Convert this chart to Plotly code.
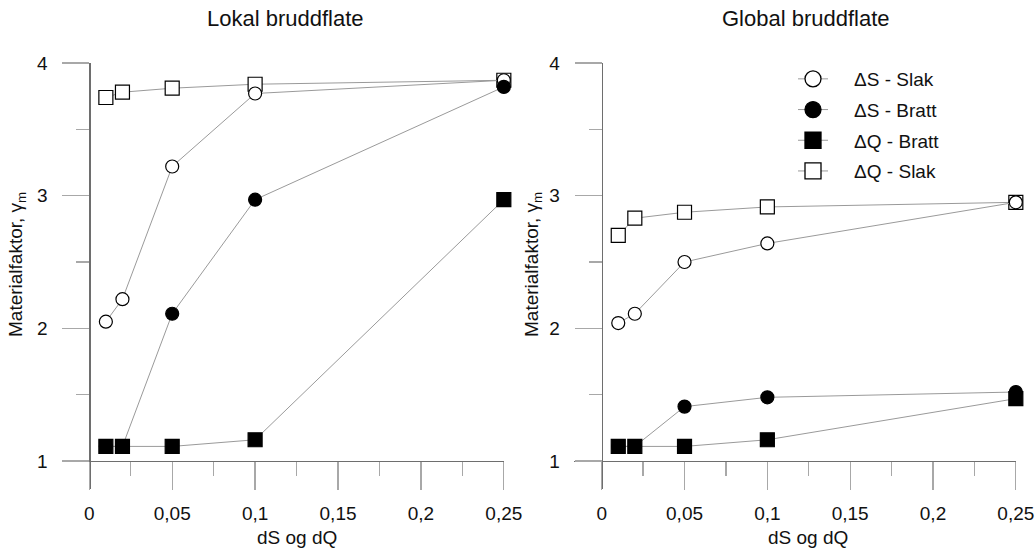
import plotly.graph_objects as go

# ---------------- data ----------------
x_vals = [0.01, 0.02, 0.05, 0.1, 0.25]

lokal_dS_slak = [2.05, 2.22, 3.22, 3.77, 3.87]
lokal_dS_bratt = [1.11, 1.11, 2.11, 2.97, 3.82]
lokal_dQ_bratt = [1.11, 1.11, 1.11, 1.16, 2.97]
lokal_dQ_slak = [3.74, 3.78, 3.81, 3.84, 3.87]

global_dS_slak = [2.04, 2.11, 2.50, 2.64, 2.95]
global_dS_bratt = [1.11, 1.11, 1.41, 1.48, 1.52]
global_dQ_bratt = [1.11, 1.11, 1.11, 1.16, 1.47]
global_dQ_slak = [2.70, 2.83, 2.875, 2.915, 2.95]

series_names = ["ΔS - Slak", "ΔS - Bratt", "ΔQ - Bratt", "ΔQ - Slak"]
panel_titles = ["Lokal bruddflate", "Global bruddflate"]
x_title = "dS og dQ"
y_title = "Materialfaktor, γ<sub>m</sub>"
x_tickvals = [0, 0.05, 0.1, 0.15, 0.2, 0.25]
x_ticktext = ["0", "0,05", "0,1", "0,15", "0,2", "0,25"]
y_tickvals = [1, 2, 3, 4]
y_ticktext = ["1", "2", "3", "4"]

# ---------------- layout helpers ----------------
# the page body margin is removed (post_script), so figure px = screen px
W, H = 1035, 548
FONT = "Liberation Sans, Arial, sans-serif"


def px(x):
    return x / W


def py(y):
    return 1 - y / H


LINE_C = "#9a9a9a"
AXIS_C = "#6e6e6e"
TICK_C = "#a8a8a8"

styles = {
    "ΔS - Slak": dict(symbol="circle", color="white", size=13, rank=1),
    "ΔS - Bratt": dict(symbol="circle", color="black", size=13, rank=2),
    "ΔQ - Bratt": dict(symbol="square", color="black", size=14, rank=3),
    "ΔQ - Slak": dict(symbol="square", color="white", size=14, rank=4),
}

panels = [
    dict(xa="x", ya="y", data={"ΔS - Slak": lokal_dS_slak, "ΔS - Bratt": lokal_dS_bratt,
                                "ΔQ - Bratt": lokal_dQ_bratt, "ΔQ - Slak": lokal_dQ_slak},
         x0=89.3, x25=504.0, xl=62.0),
    dict(xa="x2", ya="y2", data={"ΔS - Slak": global_dS_slak, "ΔS - Bratt": global_dS_bratt,
                                  "ΔQ - Bratt": global_dQ_bratt, "ΔQ - Slak": global_dQ_slak},
         x0=601.7, x25=1016.0, xl=574.0),
]

draw_order = ["ΔQ - Slak", "ΔS - Slak", "ΔS - Bratt", "ΔQ - Bratt"]

fig = go.Figure()
for p in panels:
    for name in draw_order:
        s = styles[name]
        fig.add_trace(go.Scatter(
            x=x_vals, y=p["data"][name], xaxis=p["xa"], yaxis=p["ya"],
            mode="lines+markers", name=name, legendgroup=name,
            showlegend=False, cliponaxis=False,
            line=dict(color=LINE_C, width=1),
            marker=dict(symbol=s["symbol"], size=s["size"], color=s["color"],
                        line=dict(color="black", width=1.2)),
        ))

# legend entries (no data, bigger glyphs like the reference legend)
PAD = "\u00a0" * 4
for name in series_names:
    s = styles[name]
    fig.add_trace(go.Scatter(
        x=[None], y=[None], xaxis="x2", yaxis="y2",
        mode="lines+markers", name=PAD + name, legendgroup=name,
        showlegend=True, legendrank=s["rank"],
        line=dict(color=LINE_C, width=1),
        marker=dict(symbol=s["symbol"], size=16, color=s["color"],
                    line=dict(color="black", width=1.3)),
    ))

# y geometry
Y1, Y4, YB = 461.0, 63.0, 489.0
ypx_per_unit = (Y1 - Y4) / 3.0
ymin = 1 - (YB - Y1) / ypx_per_unit

layout_axes = {}
annotations = []
for i, p in enumerate(panels):
    scale = (p["x25"] - p["x0"]) / 0.25
    xmin = -(p["x0"] - p["xl"]) / scale
    suffix = "" if i == 0 else "2"
    layout_axes["xaxis" + suffix] = dict(
        domain=[px(p["xl"]), px(p["x25"])], range=[xmin, 0.2501],
        anchor="free", position=py(Y1),
        showline=True, linecolor=AXIS_C, linewidth=1.3,
        showgrid=False, zeroline=False,
        tickmode="array", tickvals=x_tickvals, ticktext=x_ticktext,
        ticks="outside", ticklen=28, tickcolor=TICK_C, tickwidth=1.3,
        minor=dict(tickmode="array", tickvals=[0.025, 0.075, 0.125, 0.175, 0.225],
                   ticks="outside", ticklen=14, tickcolor=TICK_C, tickwidth=1.3),
        tickfont=dict(family=FONT, size=19, color="#111"),
        ticklabelstandoff=7,
        fixedrange=True,
    )
    layout_axes["yaxis" + suffix] = dict(
        domain=[py(YB), py(Y4)], range=[ymin, 4.0],
        anchor="free", position=px(p["x0"]),
        showline=True, linecolor=AXIS_C, linewidth=1.3,
        showgrid=False, zeroline=False,
        tickmode="array", tickvals=y_tickvals, ticktext=y_ticktext,
        ticks="outside", ticklen=27, tickcolor=TICK_C, tickwidth=1.3,
        minor=dict(tickmode="array", tickvals=[1.5, 2.5, 3.5],
                   ticks="outside", ticklen=13, tickcolor=TICK_C, tickwidth=1.3),
        tickfont=dict(family=FONT, size=19, color="#111"),
        ticklabelstandoff=11,
        fixedrange=True,
    )
    tx = 285.5 if i == 0 else 806.0
    annotations.append(dict(text=panel_titles[i], x=px(tx), y=py(18), xref="paper", yref="paper",
                            xanchor="center", yanchor="middle", showarrow=False,
                            font=dict(family=FONT, size=22, color="#111")))
    xc = 296.5 if i == 0 else 808.0
    annotations.append(dict(text=x_title, x=px(xc), y=py(537), xref="paper", yref="paper",
                            xanchor="center", yanchor="middle", showarrow=False,
                            font=dict(family=FONT, size=19, color="#111")))
    yx = 17.0 if i == 0 else 533.0
    annotations.append(dict(text=y_title, x=px(yx), y=py(265), xref="paper", yref="paper",
                            xanchor="center", yanchor="middle", showarrow=False, textangle=-90,
                            font=dict(family=FONT, size=19, color="#111")))

fig.update_layout(
    width=W, height=H,
    margin=dict(l=0, r=0, t=0, b=0, autoexpand=False),
    paper_bgcolor="white", plot_bgcolor="rgba(0,0,0,0)",
    showlegend=True,
    hovermode=False,
    legend=dict(x=px(793), y=py(60), xanchor="left", yanchor="top",
                font=dict(family=FONT, size=19, color="#111"),
                bgcolor="rgba(0,0,0,0)", itemsizing="trace", tracegroupgap=3,
                traceorder="grouped"),
    annotations=annotations,
    **layout_axes,
)

fig.write_html(
    "out.html",
    config={"displayModeBar": False, "staticPlot": True},
    post_script="document.body.style.margin='0';document.body.style.overflow='hidden';",
)
